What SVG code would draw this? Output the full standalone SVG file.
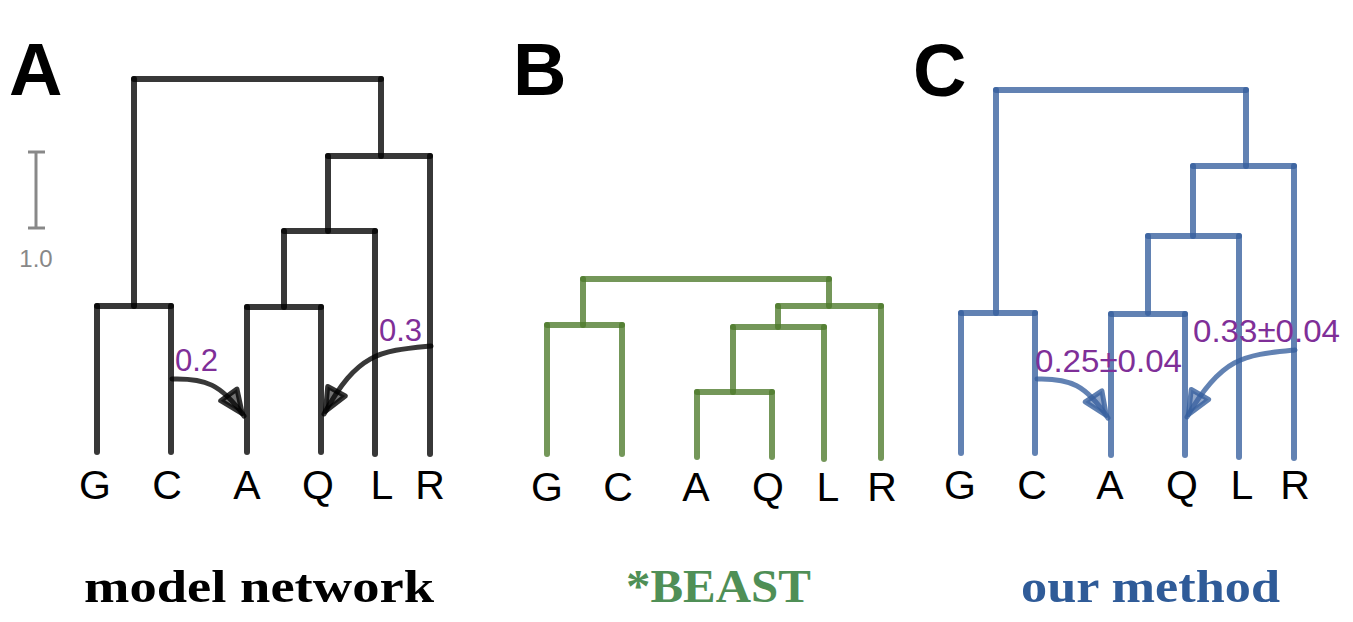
<svg xmlns="http://www.w3.org/2000/svg" width="1353" height="622" viewBox="0 0 1353 622">
<style>
.tree line{stroke-width:6;stroke-linecap:round;stroke-opacity:0.78}
.ta line{stroke:#000}
.tb line{stroke:#4d7a2a}
.tc line{stroke:#365f9e}
.leaf{font-family:"Liberation Sans",Arial,sans-serif;font-size:41px;fill:#000;text-anchor:middle}
.panel{font-family:"Liberation Sans",Arial,sans-serif;font-size:74px;font-weight:bold;fill:#000}
.gamma{font-family:"Liberation Sans",Arial,sans-serif;font-size:31px;fill:#7f2f98}
.cap{font-family:"Liberation Serif","Times New Roman",serif;font-size:47px;font-weight:bold}
.hyb{fill:none;stroke-width:5;stroke-linecap:round;stroke-opacity:0.78}
</style>
<defs>
<marker id="ahA" markerUnits="userSpaceOnUse" markerWidth="50" markerHeight="50" refX="28" refY="11" orient="auto" overflow="visible">
<polygon points="2,1 25,11 2,21" fill="#000" fill-opacity="0.55" stroke="#000" stroke-opacity="0.8" stroke-width="5" stroke-linejoin="round"/>
</marker>
<marker id="ahC" markerUnits="userSpaceOnUse" markerWidth="50" markerHeight="50" refX="28" refY="11" orient="auto" overflow="visible">
<polygon points="2,1 25,11 2,21" fill="#365f9e" fill-opacity="0.55" stroke="#365f9e" stroke-opacity="0.8" stroke-width="5" stroke-linejoin="round"/>
</marker>
</defs>
<rect width="1353" height="622" fill="#fff"/>

<g id="scalebar" stroke="#888" stroke-width="3">
<line x1="36" y1="152" x2="36" y2="228"/>
<line x1="28" y1="152" x2="45" y2="152"/>
<line x1="28" y1="228" x2="45" y2="228"/>
</g>
<text x="36" y="267" font-family="Liberation Sans,Arial,sans-serif" font-size="24" fill="#888" text-anchor="middle">1.0</text>

<text class="panel" x="9" y="95">A</text>
<text class="panel" x="513" y="95">B</text>
<text class="panel" x="913" y="96">C</text>

<g id="treeA" class="tree ta">
<line x1="134" y1="79" x2="381" y2="79"/>
<line x1="134" y1="79" x2="134" y2="306"/>
<line x1="381" y1="79" x2="381" y2="156"/>
<line x1="328" y1="156" x2="430" y2="156"/>
<line x1="328" y1="156" x2="328" y2="231"/>
<line x1="430" y1="156" x2="430" y2="454"/>
<line x1="284" y1="231" x2="375" y2="231"/>
<line x1="284" y1="231" x2="284" y2="307"/>
<line x1="375" y1="231" x2="375" y2="454"/>
<line x1="97" y1="306" x2="171" y2="306"/>
<line x1="97" y1="306" x2="97" y2="452"/>
<line x1="171" y1="306" x2="171" y2="452"/>
<line x1="247" y1="307" x2="321" y2="307"/>
<line x1="247" y1="307" x2="247" y2="452"/>
<line x1="321" y1="307" x2="321" y2="452"/>
</g>
<g id="hybA" stroke="#000">
<path class="hyb" d="M172,379 C205,378 221,384 244,416" marker-end="url(#ahA)"/>
<path class="hyb" d="M431,346 C380,351 358,352 324,414" marker-end="url(#ahA)"/>
</g>
<text class="gamma" x="175" y="371">0.2</text>
<text class="gamma" x="379" y="341">0.3</text>
<g id="leavesA">
<text class="leaf" x="95" y="499">G</text>
<text class="leaf" x="167" y="499">C</text>
<text class="leaf" x="247" y="499">A</text>
<text class="leaf" x="318" y="499">Q</text>
<text class="leaf" x="382" y="499">L</text>
<text class="leaf" x="430" y="499">R</text>
</g>

<g id="treeB" class="tree tb">
<line x1="583" y1="279" x2="829" y2="279"/>
<line x1="583" y1="279" x2="583" y2="325"/>
<line x1="829" y1="279" x2="829" y2="306"/>
<line x1="547" y1="325" x2="622" y2="325"/>
<line x1="547" y1="325" x2="547" y2="454"/>
<line x1="622" y1="325" x2="622" y2="454"/>
<line x1="778" y1="306" x2="881" y2="306"/>
<line x1="778" y1="306" x2="778" y2="327"/>
<line x1="881" y1="306" x2="881" y2="458"/>
<line x1="733" y1="327" x2="824" y2="327"/>
<line x1="733" y1="327" x2="733" y2="392"/>
<line x1="824" y1="327" x2="824" y2="459"/>
<line x1="697" y1="392" x2="772" y2="392"/>
<line x1="697" y1="392" x2="697" y2="457"/>
<line x1="772" y1="392" x2="772" y2="457"/>
</g>
<g id="leavesB">
<text class="leaf" x="547" y="501">G</text>
<text class="leaf" x="618" y="501">C</text>
<text class="leaf" x="696" y="501">A</text>
<text class="leaf" x="768" y="501">Q</text>
<text class="leaf" x="828" y="501">L</text>
<text class="leaf" x="882" y="501">R</text>
</g>

<g id="treeC" class="tree tc">
<line x1="996" y1="90" x2="1246" y2="90"/>
<line x1="996" y1="90" x2="996" y2="313"/>
<line x1="1246" y1="90" x2="1246" y2="166"/>
<line x1="1193" y1="166" x2="1294" y2="166"/>
<line x1="1193" y1="166" x2="1193" y2="236"/>
<line x1="1294" y1="166" x2="1294" y2="458"/>
<line x1="1148" y1="236" x2="1239" y2="236"/>
<line x1="1148" y1="236" x2="1148" y2="313"/>
<line x1="1239" y1="236" x2="1239" y2="457"/>
<line x1="961" y1="313" x2="1035" y2="313"/>
<line x1="961" y1="313" x2="961" y2="453"/>
<line x1="1035" y1="313" x2="1035" y2="453"/>
<line x1="1111" y1="314" x2="1185" y2="314"/>
<line x1="1111" y1="314" x2="1111" y2="455"/>
<line x1="1185" y1="314" x2="1185" y2="455"/>
</g>
<g id="hybC" stroke="#365f9e">
<path class="hyb" d="M1037,379 C1070,378 1086,385 1108,418" marker-end="url(#ahC)"/>
<path class="hyb" d="M1295,350 C1245,355 1222,356 1187,417" marker-end="url(#ahC)"/>
</g>
<text class="gamma" x="1035" y="372" textLength="147" lengthAdjust="spacingAndGlyphs">0.25±0.04</text>
<text class="gamma" x="1193" y="342" textLength="147" lengthAdjust="spacingAndGlyphs">0.33±0.04</text>
<g id="leavesC">
<text class="leaf" x="960" y="499">G</text>
<text class="leaf" x="1032" y="499">C</text>
<text class="leaf" x="1110" y="499">A</text>
<text class="leaf" x="1182" y="499">Q</text>
<text class="leaf" x="1242" y="499">L</text>
<text class="leaf" x="1295" y="499">R</text>
</g>

<text class="cap" x="84" y="602" fill="#000" textLength="350" lengthAdjust="spacingAndGlyphs">model network</text>
<text class="cap" x="626" y="602" fill="#4f8f56" textLength="185" lengthAdjust="spacingAndGlyphs">*BEAST</text>
<text class="cap" x="1021" y="602" fill="#2f5b98" textLength="259" lengthAdjust="spacingAndGlyphs">our method</text>
</svg>
